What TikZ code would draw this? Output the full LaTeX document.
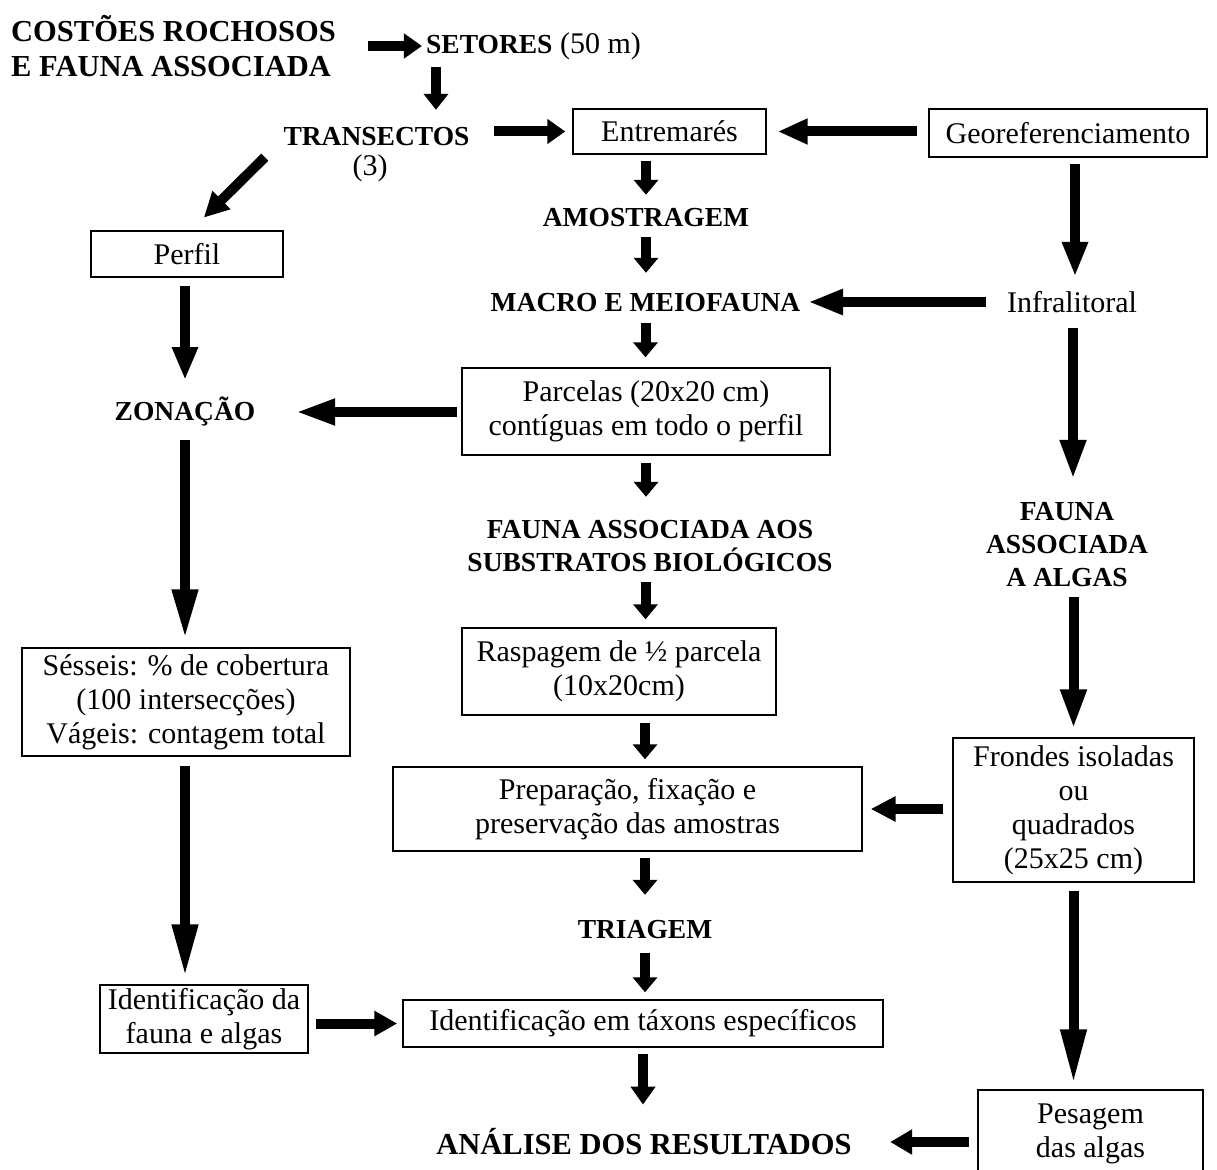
\documentclass[tikz,border=0pt]{standalone}
\usepackage{fontspec}
\setmainfont{Liberation Serif}
\usetikzlibrary{arrows.meta}
\newcommand\lblfont{\fontsize{27.5}{33}\selectfont\bfseries}
\begin{document}
\begin{tikzpicture}[x=1pt,y=-1pt,
  every node/.style={font=\fontsize{30}{34}\selectfont, inner sep=0pt, align=center},
  box/.style={draw, line width=1.4pt},
  lbl/.style={font=\lblfont},
  big/.style={font=\fontsize{30.5}{35}\selectfont\bfseries},
  arr/.style={line width=10pt, -{Triangle[length=#1, width=24pt]}},
  arr/.default=18pt]
\path[fill=white, use as bounding box] (0,0) rectangle (1217,1169);

% nodes
\node[big, align=left, minimum width=327pt, minimum height=68pt] (title) at (173.5,46) {COSTÕES ROCHOSOS\\E FAUNA ASSOCIADA};
\node[minimum width=207pt, minimum height=29pt] (setores) at (533.5,46) {{\lblfont SETORES} (50 m)};
\node[lbl, minimum width=187pt, minimum height=30pt] (trans) at (376.5,137) {TRANSECTOS};
\node (trans3) at (370,168) {(3)};
\node[box, minimum width=193pt, minimum height=45pt] (entre) at (669.5,131.5) {Entremarés};
\node[box, minimum width=278pt, minimum height=48pt] (geo) at (1068,133) {Georeferenciamento};
\node[lbl, minimum width=210pt, minimum height=24pt] (amos) at (646,218) {AMOSTRAGEM};
\node[lbl, minimum width=312pt, minimum height=24pt] (macro) at (645.5,303) {MACRO E MEIOFAUNA};
\node[minimum width=126pt, minimum height=24pt] (infra) at (1072,302) {Infralitoral};
\node[lbl, minimum width=150pt, minimum height=90pt] (falg) at (1067,545) {FAUNA\\ASSOCIADA\\A ALGAS};
\node[box, minimum width=241pt, minimum height=144pt] (frondes) at (1073.5,810) {Frondes isoladas\\ou\\quadrados\\(25x25 cm)};
\node[box, minimum width=225pt, minimum height=87pt] (pesagem) at (1090.5,1133.5) {Pesagem\\das algas};
\node[big, minimum width=424pt, minimum height=26pt] (analise) at (644,1142) {ANÁLISE DOS RESULTADOS};
\node[box, minimum width=480pt, minimum height=47pt] (taxons) at (643,1023.5) {Identificação em táxons específicos};
\node[box, minimum width=208pt, minimum height=68pt] (idfauna) at (204,1019) {Identificação da\\fauna e algas};
\node[box, minimum width=328pt, minimum height=108pt] (sesseis) at (186,702) {Sésseis: \% de cobertura\\(100 intersecções)\\Vágeis: contagem total};
\node[lbl, minimum width=150pt, minimum height=24pt] (zon) at (185,412) {ZONAÇÃO};
\node[box, minimum width=368pt, minimum height=87pt] (parcelas) at (646,411.5) {Parcelas (20x20 cm)\\contíguas em todo o perfil};
\node[lbl, minimum width=370pt, minimum height=59pt] (fasb) at (650,546.5) {FAUNA ASSOCIADA AOS\\SUBSTRATOS BIOLÓGICOS};
\node[box, minimum width=314pt, minimum height=87pt] (rasp) at (619,671.5) {Raspagem de ½ parcela\\(10x20cm)};
\node[box, minimum width=469pt, minimum height=84pt] (prep) at (627.5,809) {Preparação, fixação e\\preservação das amostras};
\node[lbl, minimum width=140pt, minimum height=24pt] (triagem) at (645,930) {TRIAGEM};
\node[box, minimum width=192pt, minimum height=46pt] (perfil) at (187,254) {Perfil};

% connectors
\draw[arr, shorten <=31pt, shorten >=4pt] (title.east) -- (setores.west);
\draw[arr=16pt, shorten <=6.5pt, shorten >=12pt] ([xshift=10pt]setores.south west) -- ([xshift=10pt]setores.south west |- trans.north);
\draw[arr, shorten <=24pt, shorten >=7pt] (trans.east |- entre.west) -- (entre.west);
\draw[arr=25pt, shorten >=18pt] ([xshift=-18pt,yshift=-5pt]trans.south west) -- ([xshift=4pt]perfil.north);
\draw[arr=30pt, shorten <=11pt, shorten >=11pt] (geo.west |- entre.east) -- (entre.east);
\draw[arr=15pt, shorten <=6pt, shorten >=11pt] (amos.north |- entre.south) -- (amos.north);
\draw[arr=15pt, shorten <=7pt, shorten >=18pt] (amos.south) -- (amos.south |- macro.north);
\draw[arr=15pt, shorten <=8pt, shorten >=10pt] (macro.south) -- (macro.south |- parcelas.north);
\draw[arr=35pt, shorten <=21pt, shorten >=6.5pt] (infra.west) -- (macro.east |- infra.west);
\draw[arr=35pt, shorten <=6pt, shorten >=13pt] ([xshift=7pt]geo.south) -- ([xshift=7pt]geo.south |- infra.north);
\draw[arr=40pt, shorten <=14pt, shorten >=20pt] ([xshift=6pt]falg.north |- infra.south) -- ([xshift=6pt]falg.north);
\draw[arr=40pt, shorten <=7pt, shorten >=8pt] (falg.south -| frondes.north) -- (frondes.north);
\draw[arr=55pt, shorten <=8pt, shorten >=5pt] (frondes.south) -- (frondes.south |- pesagem.north);
\draw[arr=22pt, shorten <=8pt, shorten >=34pt] (pesagem.west |- analise.east) -- (analise.east);
\draw[arr=25pt, shorten <=9pt, shorten >=8pt] (frondes.west |- prep.east) -- (prep.east);
\draw[arr=18pt, shorten <=6pt, shorten >=24pt] (taxons.south) -- (taxons.south |- analise.north);
\draw[arr=15pt, shorten <=11pt, shorten >=7pt] (triagem.south) -- (triagem.south |- taxons.north);
\draw[arr=15pt, shorten <=6pt, shorten >=23pt] (triagem.north |- prep.south) -- (triagem.north);
\draw[arr=15pt, shorten <=7pt, shorten >=7pt] (triagem.north |- rasp.south) -- (triagem.north |- prep.north);
\draw[arr=15pt, shorten <=6pt, shorten >=8pt] (macro.south |- fasb.south) -- (macro.south |- rasp.north);
\draw[arr=15pt, shorten <=7pt, shorten >=20pt] (parcelas.south) -- (parcelas.south |- fasb.north);
\draw[arr=40pt, shorten <=4pt, shorten >=35pt] (parcelas.west |- zon.east) -- (zon.east);
\draw[arr=33pt, shorten <=8pt, shorten >=17pt] (zon.north |- perfil.south) -- (zon.north);
\draw[arr=50pt, shorten <=13pt, shorten >=8pt] (zon.south) -- (zon.south |- sesseis.north);
\draw[arr=53pt, shorten <=9pt, shorten >=7pt] (zon.south |- sesseis.south) -- (zon.south |- idfauna.north);
\draw[arr=23pt, shorten <=7pt, shorten >=5pt] (idfauna.east |- taxons.west) -- (taxons.west);
\end{tikzpicture}
\end{document}
